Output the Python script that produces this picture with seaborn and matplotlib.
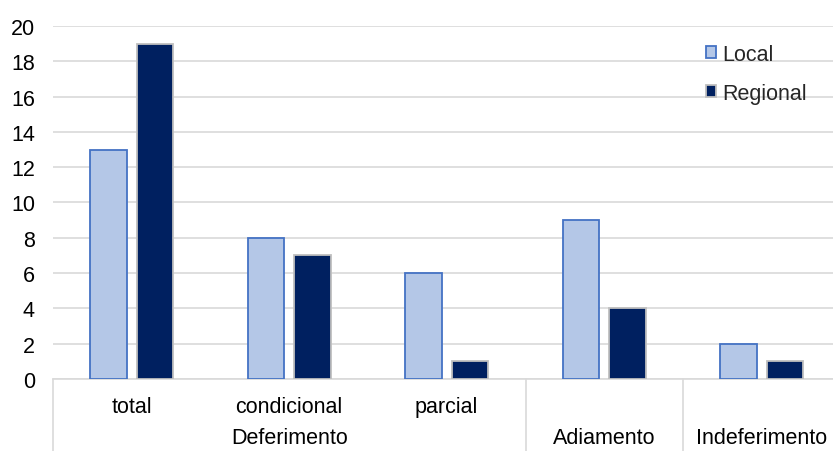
import matplotlib
matplotlib.use("Agg")
import matplotlib.pyplot as plt
import matplotlib.transforms as mtransforms
import seaborn as sns
import pandas as pd

# Pedidos por tipo de decisão
categories = ["total", "condicional", "parcial", "Adiamento", "Indeferimento"]
local_values = [13, 8, 6, 9, 2]
regional_values = [19, 7, 1, 4, 1]
series_names = ["Local", "Regional"]

# Segundo nível do eixo x: (rótulo, primeira categoria, última categoria)
groups = [("Deferimento", 0, 2), ("Adiamento", 3, 3), ("Indeferimento", 4, 4)]
inner_labels = ["total", "condicional", "parcial", "", ""]

y_ticks = list(range(0, 21, 2))

df = pd.DataFrame({
    "categoria": categories * 2,
    "valor": local_values + regional_values,
    "serie": [series_names[0]] * len(categories) + [series_names[1]] * len(categories),
})

sns.set_theme(style="white")
plt.rcParams["font.family"] = ["Liberation Sans", "DejaVu Sans"]

FS = 15.5

fig = plt.figure(figsize=(8.33, 4.52), dpi=100)
ax = fig.add_axes([53 / 833, 72 / 452, 787.5 / 833, 353 / 452])

fill_colors = {"Local": "#b4c7e7", "Regional": "#002060"}
edge_colors = {"Local": "#4472c4", "Regional": "#bfbfbf"}

sns.barplot(data=df, x="categoria", y="valor", hue="serie", order=categories,
            hue_order=series_names, palette=fill_colors, saturation=1,
            width=0.59, gap=0.22, ax=ax, zorder=3)

for container, name in zip(ax.containers, series_names):
    for patch in container:
        patch.set_edgecolor(edge_colors[name])
        patch.set_linewidth(1.3)

ax.set_xlim(-0.5, len(categories) - 0.5)
ax.set_ylim(0, 20)
ax.set_yticks(y_ticks)
ax.set_yticklabels([str(t) for t in y_ticks], fontsize=FS, color="#000000")
ax.tick_params(axis="y", length=0, pad=13)
ax.set_xticks([])
ax.set_xlabel("")
ax.set_ylabel("")
ax.yaxis.grid(True, color="#d9d9d9", linewidth=1.2, zorder=0)
ax.set_axisbelow(True)
for side in ["left", "right", "top"]:
    ax.spines[side].set_visible(False)
ax.spines["bottom"].set_color("#d9d9d9")
ax.spines["bottom"].set_linewidth(1.2)

# Rótulos e separadores do eixo de categorias em dois níveis
trans = mtransforms.blended_transform_factory(ax.transData, ax.transAxes)
bottom_frac = -72 / 353
for i, lab in enumerate(inner_labels):
    if lab:
        ax.text(i, -28 / 353, lab, transform=trans, ha="center", va="center",
                fontsize=FS, color="#000000")
for name, first, last in groups:
    ax.text((first + last) / 2, -59 / 353, name, transform=trans, ha="center",
            va="center", fontsize=FS, color="#000000")
separators = [-0.5] + [last + 0.5 for _, _, last in groups[:-1]]
for xs in separators:
    ax.plot([xs, xs], [0, bottom_frac], transform=trans, color="#d9d9d9",
            linewidth=1.2, clip_on=False)

handles = [container.patches[0] for container in ax.containers]
if ax.get_legend() is not None:
    ax.get_legend().remove()
ax.legend(handles, series_names, loc="upper left", bbox_to_anchor=(0.829, 0.95),
          frameon=False, fontsize=FS, handlelength=0.45, handleheight=0.45,
          handletextpad=0.3, labelspacing=0.85, borderpad=0, borderaxespad=0)

fig.savefig("out.png", dpi=100)
